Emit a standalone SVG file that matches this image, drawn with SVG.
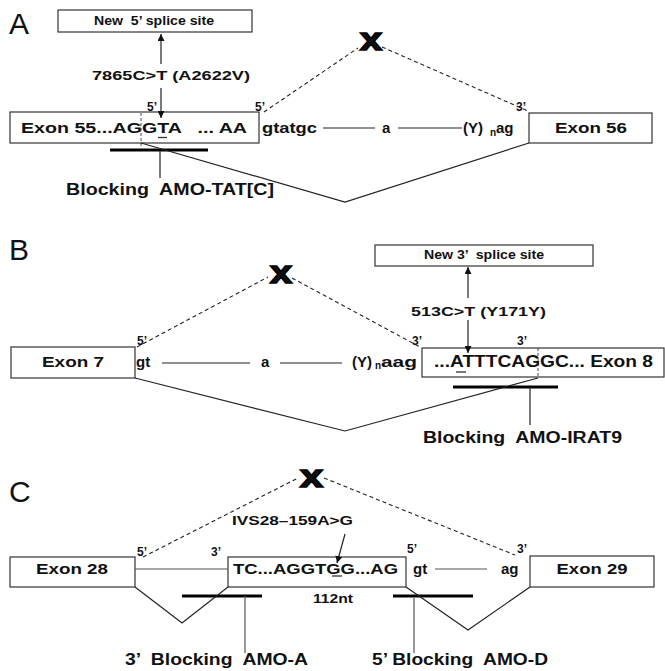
<svg xmlns="http://www.w3.org/2000/svg" width="665" height="671" viewBox="0 0 665 671">
<style>
.t{font-family:"Liberation Sans",Arial,sans-serif;font-weight:bold;fill:#111;white-space:pre}
.pl{font-family:"Liberation Sans",Arial,sans-serif;font-weight:normal;font-size:30px;fill:#111}
.box{fill:#fff;stroke:#333;stroke-width:1.2}
.ln{fill:none;stroke:#222;stroke-width:1.2}
.gl{fill:none;stroke:#555;stroke-width:1.2}
.ds{fill:none;stroke:#222;stroke-width:1.1;stroke-dasharray:4 3}
.dv{fill:none;stroke:#333;stroke-width:0.9;stroke-dasharray:3 2}
.bar{stroke:#000;stroke-width:3.2}
.ul{stroke:#333;stroke-width:1.3}
.xx{font-size:32px;stroke:#000;stroke-width:1.6}
.pr{font-size:12px}
</style>
<defs>
<marker id="ah" viewBox="0 0 10 10" refX="10" refY="5" markerWidth="7" markerHeight="7" markerUnits="userSpaceOnUse" orient="auto"><path d="M0,0 L10,5 L0,10 z" fill="#111"/></marker>
</defs>
<rect width="665" height="671" fill="#fff"/>

<g id="panelA">
  <text id="labelA" class="pl" x="9" y="34">A</text>
  <g id="new5ss"><rect class="box" x="58" y="10" width="194" height="22"/><text class="t" x="94" y="25" font-size="12" textLength="120" lengthAdjust="spacingAndGlyphs">New  5’ splice site</text></g>
  <text class="t" x="92" y="80" font-size="12" textLength="158" lengthAdjust="spacingAndGlyphs">7865C&gt;T (A2622V)</text>
  <text class="t pr" x="147" y="111">5’</text>
  <text class="t pr" x="255" y="111">5’</text>
  <text class="t pr" x="516" y="111">3’</text>
  <g id="exon55"><rect class="box" x="10" y="112" width="249" height="31"/><text class="t" x="21" y="133" font-size="15" textLength="226" lengthAdjust="spacingAndGlyphs">Exon 55...AGGTA   ... AA</text><line class="ul" x1="158" y1="137.5" x2="167" y2="137.5"/><line class="dv" x1="141" y1="113" x2="141" y2="146"/></g>
  <text class="t" x="262" y="133" font-size="15" textLength="55" lengthAdjust="spacingAndGlyphs">gtatgc</text>
  <text class="t" x="382" y="133" font-size="15">a</text>
  <text class="t" x="463" y="133" font-size="15">(Y)</text>
  <text class="t" x="490" y="136" font-size="10">n</text>
  <text class="t" x="496" y="133" font-size="15">ag</text>
  <g id="exon56"><rect class="box" x="529" y="113" width="123" height="30"/><text class="t" x="591" y="133" font-size="15" text-anchor="middle" textLength="72" lengthAdjust="spacingAndGlyphs">Exon 56</text></g>
  <text id="xA" class="t xx" x="360" y="50" textLength="22" lengthAdjust="spacingAndGlyphs">x</text>
  <g id="amoA"><line class="bar" x1="110" y1="150" x2="208" y2="150"/><text class="t" x="66" y="195" font-size="16" textLength="208" lengthAdjust="spacingAndGlyphs">Blocking  AMO-TAT[C]</text></g>
</g>

<g id="panelB">
  <text id="labelB" class="pl" x="9" y="260">B</text>
  <g id="new3ss"><rect class="box" x="375" y="245" width="218" height="21"/><text class="t" x="424" y="259" font-size="12" textLength="120" lengthAdjust="spacingAndGlyphs">New 3’  splice site</text></g>
  <text class="t" x="411" y="316" font-size="12" textLength="135" lengthAdjust="spacingAndGlyphs">513C&gt;T (Y171Y)</text>
  <g id="exon7"><rect class="box" x="11" y="347" width="124" height="31"/><text class="t" x="73" y="367" font-size="15" text-anchor="middle" textLength="62" lengthAdjust="spacingAndGlyphs">Exon 7</text></g>
  <text class="t pr" x="137" y="345">5’</text>
  <text class="t" x="136" y="367" font-size="15">gt</text>
  <text class="t" x="261" y="367" font-size="15">a</text>
  <text class="t" x="352" y="367" font-size="15">(Y)</text>
  <text class="t" x="375" y="369" font-size="10">n</text>
  <text class="t" x="381" y="367" font-size="15" textLength="36" lengthAdjust="spacingAndGlyphs">aag</text>
  <text class="t pr" x="412" y="345">3’</text>
  <text class="t pr" x="517" y="345">3’</text>
  <g id="exon8"><rect class="box" x="422" y="348" width="242" height="29"/><text class="t" x="434" y="367" font-size="16" textLength="219" lengthAdjust="spacingAndGlyphs">...ATTTCAGGC... Exon 8</text><line class="ul" x1="456" y1="372" x2="466" y2="372"/><line class="dv" x1="538" y1="348" x2="538" y2="378"/></g>
  <text id="xB" class="t xx" x="270" y="283" textLength="22" lengthAdjust="spacingAndGlyphs">x</text>
  <g id="amoB"><line class="bar" x1="453" y1="387" x2="558" y2="387"/><text class="t" x="423" y="443" font-size="16" textLength="199" lengthAdjust="spacingAndGlyphs">Blocking  AMO-IRAT9</text></g>
</g>

<g id="panelC">
  <text id="labelC" class="pl" x="9" y="502">C</text>
  <text id="xC" class="t xx" x="300" y="487" textLength="23" lengthAdjust="spacingAndGlyphs">x</text>
  <text class="t" x="232" y="525" font-size="12" textLength="121" lengthAdjust="spacingAndGlyphs">IVS28–159A&gt;G</text>
  <g id="exon28"><rect class="box" x="10" y="557" width="125" height="30"/><text class="t" x="72" y="574" font-size="15" text-anchor="middle" textLength="72" lengthAdjust="spacingAndGlyphs">Exon 28</text></g>
  <text class="t pr" x="137" y="556">5’</text>
  <text class="t pr" x="211" y="556">3’</text>
  <g id="exon112"><rect class="box" x="228" y="557" width="178" height="30"/><text class="t" x="233" y="574" font-size="15" textLength="165" lengthAdjust="spacingAndGlyphs">TC...AGGTGG...AG</text><line class="ul" x1="332" y1="576" x2="342" y2="576"/></g>
  <text class="t" x="313" y="603" font-size="12" textLength="40" lengthAdjust="spacingAndGlyphs">112nt</text>
  <text class="t pr" x="407" y="553">5’</text>
  <text class="t" x="413" y="574" font-size="15">gt</text>
  <text class="t" x="501" y="574" font-size="15">ag</text>
  <text class="t pr" x="517" y="553">3’</text>
  <g id="exon29"><rect class="box" x="530" y="556" width="124" height="31"/><text class="t" x="592" y="574" font-size="15" text-anchor="middle" textLength="71" lengthAdjust="spacingAndGlyphs">Exon 29</text></g>
  <g id="amoA3"><line class="bar" x1="182" y1="596" x2="262" y2="596"/><text class="t" x="125" y="665" font-size="16" textLength="183" lengthAdjust="spacingAndGlyphs">3’  Blocking  AMO-A</text></g>
  <g id="amoD5"><line class="bar" x1="393" y1="596" x2="473" y2="596"/><text class="t" x="372" y="665" font-size="16" textLength="176" lengthAdjust="spacingAndGlyphs">5’ Blocking  AMO-D</text></g>
</g>

<g id="connectors">
  <line class="ln" x1="161" y1="64" x2="161" y2="34" marker-end="url(#ah)"/>
  <line class="ln" x1="161" y1="88" x2="161" y2="118" marker-end="url(#ah)"/>
  <path class="ds" d="M264,112 L358,48"/>
  <path class="ds" d="M382,47 L528,111"/>
  <line class="ln" x1="323" y1="128" x2="375" y2="128"/>
  <line class="ln" x1="398" y1="128" x2="462" y2="128"/>
  <path class="ln" d="M141,143 L345,202 L529,143"/>
  <line class="ln" x1="160" y1="150" x2="160" y2="178"/>
  <line class="ln" x1="468" y1="298" x2="468" y2="267" marker-end="url(#ah)"/>
  <line class="ln" x1="468" y1="320" x2="468" y2="353" marker-end="url(#ah)"/>
  <path class="ds" d="M137,347 L268,277"/>
  <path class="ds" d="M292,278 L420,347"/>
  <line class="ln" x1="162" y1="363" x2="250" y2="363"/>
  <line class="ln" x1="280" y1="363" x2="342" y2="363"/>
  <path class="ln" d="M135,378 L345,431 L538,378"/>
  <line class="ln" x1="530" y1="387" x2="530" y2="425"/>
  <path class="ds" d="M143,557 L298,478"/>
  <path class="ds" d="M324,478 L515,555"/>
  <line class="ln" x1="345" y1="534" x2="337" y2="563" marker-end="url(#ah)"/>
  <line class="gl" x1="135" y1="569" x2="228" y2="569"/>
  <line class="gl" x1="435" y1="569" x2="487" y2="569"/>
  <path class="ln" d="M135,587 L182,623 L228,587"/>
  <path class="ln" d="M406,587 L468,630 L530,587"/>
  <line class="gl" x1="245" y1="596" x2="245" y2="653"/>
  <line class="gl" x1="414" y1="598" x2="414" y2="653"/>
</g>
</svg>
